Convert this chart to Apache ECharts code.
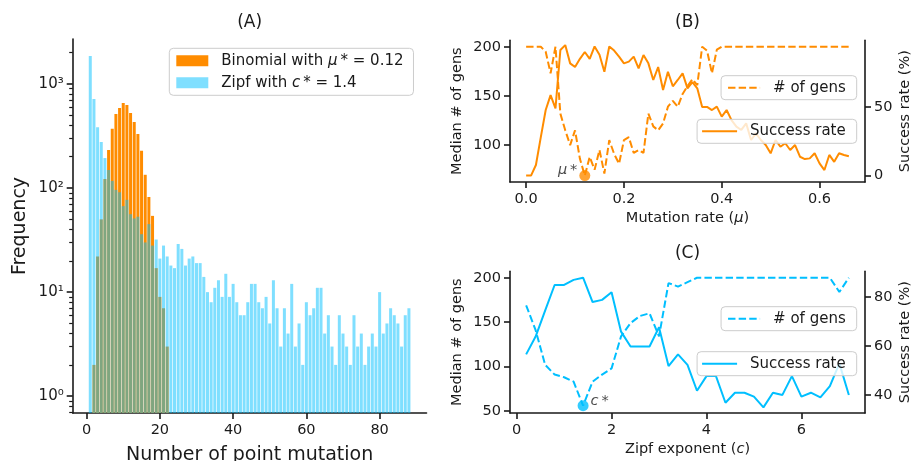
<!DOCTYPE html>
<html>
<head>
<meta charset="utf-8">
<script src="https://cdn.jsdelivr.net/npm/echarts@6/dist/echarts.min.js"></script>
<style>
  html, body { margin: 0; padding: 0; background: #ffffff; }
  #chart { width: 919px; height: 461px; }
</style>
</head>
<body>
<div id="chart"></div>
<script>
// ---------- (A) histogram of point-mutation counts ----------
const MUTATIONS = Array.from({ length: 88 }, (_, i) => i + 1);
const BINOMIAL_FREQ = [
  0, 2, 22, 50, 122, 232, 370, 514, 588, 656,
  628, 526, 431, 331, 228, 134, 82, 54, 17, 9,
  7, 3, 0, 0, 0, 0, 0, 0, 0, 0,
  0, 0, 0, 0, 0, 0, 0, 0, 0, 0,
  0, 0, 0, 0, 0, 0, 0, 0, 0, 0,
  0, 0, 0, 0, 0, 0, 0, 0, 0, 0,
  0, 0, 0, 0, 0, 0, 0, 0, 0, 0,
  0, 0, 0, 0, 0, 0, 0, 0, 0, 0,
  0, 0, 0, 0, 0, 0, 0, 0
];
const ZIPF_FREQ = [
  1858, 718, 384, 277, 194, 149, 117, 96, 91, 67,
  77, 56, 51, 53, 36, 30, 45, 28, 32, 21,
  28, 22, 18, 17, 29, 26, 18, 21, 22, 19,
  19, 14, 10, 8, 11, 13, 9, 15, 9, 12,
  8, 6, 6, 8, 12, 12, 8, 7, 9, 5,
  13, 7, 3, 7, 4, 12, 3, 5, 2, 8,
  6, 7, 11, 11, 4, 6, 3, 2, 6, 4,
  3, 2, 6, 3, 4, 2, 3, 4, 3, 10,
  4, 5, 7, 6, 5, 3, 6, 7
];
const HIST_X_TICKS = [0, 20, 40, 60, 80];
const HIST_Y_TICKS = [1, 10, 100, 1000];
const HIST_Y_MINOR = [0.7, 0.8, 0.9, 2, 3, 4, 5, 6, 7, 8, 9, 20, 30, 40, 50, 60, 70, 80, 90,
  200, 300, 400, 500, 600, 700, 800, 900, 2000];

// ---------- (B) sweep over the mutation rate ----------
const MU_RATE = [
  0.00, 0.01, 0.02, 0.03, 0.04, 0.05, 0.06, 0.07, 0.08, 0.09,
  0.10, 0.11, 0.12, 0.13, 0.14, 0.15, 0.16, 0.17, 0.18, 0.19,
  0.20, 0.21, 0.22, 0.23, 0.24, 0.25, 0.26, 0.27, 0.28, 0.29,
  0.30, 0.31, 0.32, 0.33, 0.34, 0.35, 0.36, 0.37, 0.38, 0.39,
  0.40, 0.41, 0.42, 0.43, 0.44, 0.45, 0.46, 0.47, 0.48, 0.49,
  0.50, 0.51, 0.52, 0.53, 0.54, 0.55, 0.56, 0.57, 0.58, 0.59,
  0.60, 0.61, 0.62, 0.63, 0.64, 0.65, 0.66
];
const MU_GENS = [
  200, 200, 200, 200, 195, 173, 200, 132, 115, 100,
  115, 86, 69, 88, 75, 95, 71, 105, 91, 81,
  105, 108, 92, 95, 92, 132, 119, 115, 122, 139,
  145, 139, 152, 160, 167, 161, 200, 196, 173, 197,
  200, 200, 200, 200, 200, 200, 200, 200, 200, 200,
  200, 200, 200, 200, 200, 200, 200, 200, 200, 200,
  200, 200, 200, 200, 200, 200, 200
];
const MU_SUCCESS = [
  0, 0, 7.7, 28, 47.7, 58.6, 48.9, 91.4, 95, 81.7,
  79, 85, 90, 85, 94, 88, 75.6, 94, 91, 86.6,
  81.7, 83, 86.6, 78, 87.8, 81.7, 69.6, 79, 62.3, 75.6,
  65, 69.6, 74.4, 63.5, 68, 63.5, 50, 50, 47.7, 50.2,
  42.9, 47.7, 40.4, 35.6, 33.2, 38, 25.9, 30.7, 25.9, 22.2,
  16.2, 25.9, 21, 23.5, 18.6, 22.2, 13.7, 12, 12.5, 16.2,
  8.9, 4, 15, 10, 16.2, 15, 14
];
const MU_BEST = [0.12, 69];
const MU_X_TICKS = [0, 0.2, 0.4, 0.6];
const MU_GENS_TICKS = [100, 150, 200];
const MU_SUCCESS_TICKS = [0, 50];

// ---------- (C) sweep over the Zipf exponent ----------
const ZIPF_EXP = [
  0.2, 0.4, 0.6, 0.8, 1.0, 1.2, 1.4, 1.6, 1.8, 2.0,
  2.2, 2.4, 2.6, 2.8, 3.0, 3.2, 3.4, 3.6, 3.8, 4.0,
  4.2, 4.4, 4.6, 4.8, 5.0, 5.2, 5.4, 5.6, 5.8, 6.0,
  6.2, 6.4, 6.6, 6.8, 7.0
];
const ZIPF_GENS = [
  169, 141, 102, 91, 88, 83, 56, 83, 91, 98,
  134, 149, 157, 160, 134, 194, 190, 195, 200, 200,
  200, 200, 200, 200, 200, 200, 200, 200, 200, 200,
  200, 200, 200, 184, 200
];
const ZIPF_SUCCESS = [
  56.6, 63.9, 74.5, 85.0, 85.0, 87.1, 88.0, 78.0, 78.9, 82.0,
  65.9, 59.8, 59.8, 59.8, 67.7, 51.8, 56.6, 52.3, 41.7, 47.7,
  47.7, 36.8, 40.9, 40.9, 39.3, 34.9, 40.9, 40.0, 47.7, 39.3,
  40.9, 39.0, 43.6, 52.9, 40.0
];
const C_BEST = [1.4, 56];
const C_X_TICKS = [0, 2, 4, 6];
const C_GENS_TICKS = [50, 100, 150, 200];
const C_SUCCESS_TICKS = [40, 60, 80];

// ---------- styling ----------
const FONT = 'DejaVu Sans';
const INK = '#1a1a1a';
const ORANGE = '#ff8c00';
const SKY = '#00bfff';
const SKY_HALF = 'rgba(0,191,255,0.5)';
const BAR_WIDTH = 0.82;
const Y_LOG_MIN = Math.log10(0.69);
const Y_LOG_MAX = Math.log10(2700);
const SUP = ['\u2070', '\u00b9', '\u00b2', '\u00b3'];
const THIN = '\u2009';

const log10 = Math.log10;
const zip = (xs, ys) => xs.map((x, i) => [x, ys[i]]);
const histData = freq => MUTATIONS
  .map((m, i) => [m, freq[i]])
  .filter(d => d[1] > 0)
  .map(d => [d[0], log10(d[1])]);

// one histogram bar, from the bottom of the log axis up to the count
function histBar(params, api) {
  const m = api.value(0);
  const lv = api.value(1);
  const top = api.coord([m - BAR_WIDTH / 2, lv]);
  const base = api.coord([m + BAR_WIDTH / 2, Y_LOG_MIN]);
  return {
    type: 'rect',
    shape: { x: top[0], y: top[1], width: base[0] - top[0], height: base[1] - top[1] },
    style: { fill: api.visual('color') }
  };
}

const tickFont = { fontFamily: FONT, fontSize: 14.5, color: INK };
const axisLine = { show: true, onZero: false, lineStyle: { color: INK, width: 1.6 } };
const majorTick = { show: true, inside: false, length: 6, lineStyle: { color: INK, width: 1.6 } };

function xAxisOf(grid, min, max, ticks, fmt, name, nameSize, nameGap) {
  return {
    type: 'value', gridIndex: grid, min, max,
    axisLine, splitLine: { show: false },
    axisTick: Object.assign({ customValues: ticks }, majorTick),
    axisLabel: Object.assign({ customValues: ticks, margin: 10, formatter: fmt }, tickFont),
    name, nameLocation: 'middle', nameGap,
    nameTextStyle: {
      fontFamily: FONT, fontSize: nameSize, color: INK,
      rich: { i: { fontFamily: FONT, fontSize: nameSize, fontStyle: 'italic', color: INK } }
    }
  };
}
function yAxisOf(grid, pos, min, max, ticks, name, nameGap) {
  return {
    type: 'value', gridIndex: grid, position: pos, min, max,
    axisLine, splitLine: { show: false },
    axisTick: Object.assign({ customValues: ticks }, majorTick),
    axisLabel: Object.assign({ customValues: ticks, margin: 9 }, tickFont),
    name, nameLocation: 'middle', nameGap, nameRotate: 90,
    nameTextStyle: { fontFamily: FONT, fontSize: 14.5, color: INK }
  };
}

const legendBox = {
  orient: 'vertical',
  backgroundColor: 'rgba(255,255,255,0.8)',
  borderColor: '#cccccc', borderWidth: 1, borderRadius: 4,
  selectedMode: false
};
const LEGEND_TEXT = {
  'Binomial': 'Binomial with {i|\u03bc}' + THIN + '* = 0.12',
  'Zipf': 'Zipf with {i|c}' + THIN + '* = 1.4',
  'B gens': '# of gens', 'B success': 'Success rate',
  'C gens': '# of gens', 'C success': 'Success rate'
};
function legendOf(names, pos, extra) {
  return Object.assign({}, legendBox, pos, {
    data: names,
    formatter: n => LEGEND_TEXT[n],
    textStyle: {
      fontFamily: FONT, fontSize: 15, color: INK, padding: [0, 0, 0, 8],
      rich: { i: { fontFamily: FONT, fontSize: 15, fontStyle: 'italic', color: INK } }
    }
  }, extra);
}
// line legends show only the stroke
const lineKey = { itemStyle: { opacity: 0 } };
// grids are placed exactly; labels may run to the canvas edge
const gridBase = { outerBoundsMode: 'none', containLabel: false };

const option = {
  animation: false,
  backgroundColor: '#ffffff',
  grid: [
    Object.assign({ left: 72.7, top: 39, width: 353.8, height: 374 }, gridBase),
    Object.assign({ left: 510, top: 40.3, width: 355, height: 141.7 }, gridBase),
    Object.assign({ left: 510, top: 271.3, width: 355, height: 141.7 }, gridBase)
  ],
  graphic: [
    { type: 'text', x: 249.6, y: 23, style: { text: '(A)', font: '17px "DejaVu Sans"', fill: INK, align: 'center', verticalAlign: 'middle' } },
    { type: 'text', x: 687.5, y: 23, style: { text: '(B)', font: '17px "DejaVu Sans"', fill: INK, align: 'center', verticalAlign: 'middle' } },
    { type: 'text', x: 687.5, y: 254, style: { text: '(C)', font: '17px "DejaVu Sans"', fill: INK, align: 'center', verticalAlign: 'middle' } }
  ],
  legend: [
    legendOf(['Binomial', 'Zipf'], { left: 169.3, top: 48.3 },
      { icon: 'rect', itemWidth: 32, itemHeight: 11, itemGap: 7, padding: [5, 10, 5, 7] }),
    legendOf(['B gens'], { right: 62.3, top: 75.7 }, Object.assign({ itemWidth: 32, itemHeight: 14, padding: [4.5, 11, 4.5, 6] }, lineKey)),
    legendOf(['B success'], { right: 62.3, top: 119.3 }, Object.assign({ itemWidth: 35, itemHeight: 14, padding: [4.5, 11, 4.5, 4] }, lineKey)),
    legendOf(['C gens'], { right: 62.3, top: 306.7 }, Object.assign({ itemWidth: 32, itemHeight: 14, padding: [4.5, 11, 4.5, 6] }, lineKey)),
    legendOf(['C success'], { right: 62.3, top: 351.7 }, Object.assign({ itemWidth: 35, itemHeight: 14, padding: [4.5, 11, 4.5, 4] }, lineKey))
  ],
  xAxis: [
    xAxisOf(0, -3.8, 92.8, HIST_X_TICKS, v => String(v), 'Number of point mutation', 19, 33),
    xAxisOf(1, -0.033, 0.693, MU_X_TICKS, v => v.toFixed(1), 'Mutation rate ({i|\u03bc})', 14.5, 29),
    xAxisOf(2, -0.14, 7.34, C_X_TICKS, v => String(v), 'Zipf exponent ({i|c})', 14.5, 29)
  ],
  yAxis: [
    {
      type: 'value', gridIndex: 0, position: 'left', min: Y_LOG_MIN, max: Y_LOG_MAX,
      axisLine, splitLine: { show: false },
      axisTick: Object.assign({ customValues: HIST_Y_TICKS.map(log10) }, majorTick),
      axisLabel: Object.assign({
        customValues: HIST_Y_TICKS.map(log10), margin: 9,
        formatter: v => '10' + SUP[Math.round(v)]
      }, tickFont, { fontSize: 15 }),
      name: 'Frequency', nameLocation: 'middle', nameGap: 43, nameRotate: 90,
      nameTextStyle: { fontFamily: FONT, fontSize: 19, color: INK }
    },
    {
      type: 'value', gridIndex: 0, position: 'left', offset: 0, min: Y_LOG_MIN, max: Y_LOG_MAX,
      axisLine: { show: false, onZero: false }, splitLine: { show: false }, axisLabel: { show: false },
      axisTick: { show: true, inside: false, length: 3.5, customValues: HIST_Y_MINOR.map(log10), lineStyle: { color: INK, width: 1.2 } }
    },
    yAxisOf(1, 'left', 62.45, 206.55, MU_GENS_TICKS, 'Median # of gens', 45),
    yAxisOf(1, 'right', -4.7, 98.5, MU_SUCCESS_TICKS, 'Success rate (%)', 33),
    yAxisOf(2, 'left', 47.75, 207.25, C_GENS_TICKS, 'Median # of gens', 45),
    yAxisOf(2, 'right', 32.6, 90.6, C_SUCCESS_TICKS, 'Success rate (%)', 33)
  ],
  series: [
    { name: 'Binomial', type: 'custom', xAxisIndex: 0, yAxisIndex: 0, clip: true,
      itemStyle: { color: ORANGE }, renderItem: histBar, data: histData(BINOMIAL_FREQ) },
    { name: 'Zipf', type: 'custom', xAxisIndex: 0, yAxisIndex: 0, clip: true,
      itemStyle: { color: SKY_HALF }, renderItem: histBar, data: histData(ZIPF_FREQ) },

    { name: 'B gens', type: 'line', xAxisIndex: 1, yAxisIndex: 2, symbol: 'none',
      lineStyle: { color: ORANGE, width: 2, type: [7.4, 3.2] }, itemStyle: { color: ORANGE },
      data: zip(MU_RATE, MU_GENS) },
    { name: 'B success', type: 'line', xAxisIndex: 1, yAxisIndex: 3, symbol: 'none',
      lineStyle: { color: ORANGE, width: 2 }, itemStyle: { color: ORANGE },
      data: zip(MU_RATE, MU_SUCCESS) },
    { type: 'scatter', xAxisIndex: 1, yAxisIndex: 2, symbolSize: 11, itemStyle: { color: ORANGE },
      data: [MU_BEST], z: 5,
      label: { show: true, position: 'left', distance: 2, offset: [0, -5], formatter: '{i|\u03bc}' + THIN + '*',
        fontFamily: FONT, fontSize: 14.5, color: INK,
        rich: { i: { fontFamily: FONT, fontSize: 14.5, fontStyle: 'italic', color: INK } } } },

    { name: 'C gens', type: 'line', xAxisIndex: 2, yAxisIndex: 4, symbol: 'none',
      lineStyle: { color: SKY, width: 2, type: [7.4, 3.2] }, itemStyle: { color: SKY },
      data: zip(ZIPF_EXP, ZIPF_GENS) },
    { name: 'C success', type: 'line', xAxisIndex: 2, yAxisIndex: 5, symbol: 'none',
      lineStyle: { color: SKY, width: 2 }, itemStyle: { color: SKY },
      data: zip(ZIPF_EXP, ZIPF_SUCCESS) },
    { type: 'scatter', xAxisIndex: 2, yAxisIndex: 4, symbolSize: 11, itemStyle: { color: SKY },
      data: [C_BEST], z: 5,
      label: { show: true, position: 'right', distance: 2, offset: [0, -4], formatter: '{i|c}' + THIN + '*',
        fontFamily: FONT, fontSize: 14.5, color: INK,
        rich: { i: { fontFamily: FONT, fontSize: 14.5, fontStyle: 'italic', color: INK } } } }
  ]
};

const chart = echarts.init(document.getElementById('chart'), null, { renderer: 'canvas' });
chart.setOption(option);
</script>
</body>
</html>
